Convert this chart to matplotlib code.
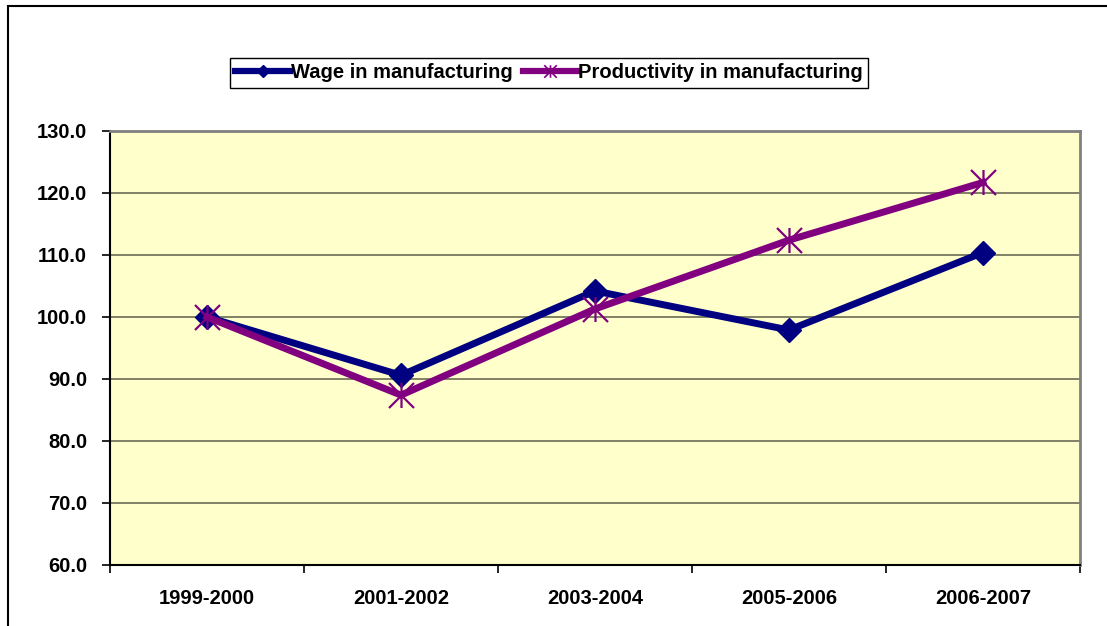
import numpy as np
import matplotlib
matplotlib.use("Agg")
import matplotlib.pyplot as plt
from matplotlib.path import Path
from matplotlib.patches import Rectangle
from matplotlib.lines import Line2D

plt.rcParams['font.family'] = ['Liberation Sans', 'DejaVu Sans']
plt.rcParams['font.weight'] = 'bold'

periods = ["1999-2000", "2001-2002", "2003-2004", "2005-2006", "2006-2007"]
wage = [100.0, 90.6, 104.2, 97.9, 110.4]
productivity = [100.0, 87.4, 101.3, 112.4, 121.7]
y_ticks = [60, 70, 80, 90, 100, 110, 120, 130]

WAGE_COLOR = "#000080"
PROD_COLOR = "#800080"
FS = 14.5

# Excel-style star: an X with a vertical bar through it
star_path = Path(
    [(-0.5, -0.5), (0.5, 0.5), (-0.5, 0.5), (0.5, -0.5), (0, -0.5), (0, 0.5)],
    [Path.MOVETO, Path.LINETO, Path.MOVETO, Path.LINETO, Path.MOVETO, Path.LINETO],
)

W, H = 1107, 626
fig = plt.figure(figsize=(W / 100, H / 100), dpi=100)
fig.patch.set_facecolor("white")

# outer chart-area border
fig.patches.append(Rectangle((8 / W, -0.1), 1.2, 1 - 6 / H + 0.1, transform=fig.transFigure,
                             fill=False, edgecolor="black", linewidth=1.5))

ax = fig.add_axes([110 / W, (H - 565) / H, 970 / W, 434 / H])
ax.set_facecolor("#FFFFCC")

x = np.arange(len(periods))
ax.plot(x, wage, color=WAGE_COLOR, linewidth=5, marker="D", markersize=12,
        markeredgecolor=WAGE_COLOR, markerfacecolor=WAGE_COLOR,
        zorder=3, solid_joinstyle="miter")
ax.plot(x, productivity, color=PROD_COLOR, linewidth=5, marker=star_path, markersize=18,
        markeredgewidth=1.6, markeredgecolor=PROD_COLOR, markerfacecolor="none",
        zorder=4, solid_joinstyle="miter")

ax.set_xlim(-0.5, len(periods) - 0.5)
ax.set_ylim(60, 130)
ax.set_yticks(y_ticks)
ax.set_yticklabels([f"{v:.1f}" for v in y_ticks], fontsize=FS, fontweight="bold")
ax.yaxis.grid(True, color="#6b6b55", linewidth=1.2)
ax.set_axisbelow(True)

# category labels between tick marks at the boundaries
ax.set_xticks(np.arange(-0.5, len(periods), 1.0))
ax.set_xticklabels([])
ax.set_xticks(x, minor=True)
ax.set_xticklabels(periods, minor=True, fontsize=FS, fontweight="bold")
ax.tick_params(axis="x", which="minor", length=0, pad=17)
ax.tick_params(axis="x", which="major", length=6, width=1.2, color="black", direction="out")
ax.tick_params(axis="y", length=6, width=1.2, color="black", direction="out", pad=10.5)

for side in ("top", "right"):
    ax.spines[side].set_color("#808080")
    ax.spines[side].set_linewidth(2)
for side in ("left", "bottom"):
    ax.spines[side].set_color("black")
    ax.spines[side].set_linewidth(1.5)

# legend uses smaller markers than the plotted series
handles = [
    Line2D([], [], color=WAGE_COLOR, linewidth=4.5, marker="D", markersize=6,
           markerfacecolor=WAGE_COLOR, markeredgecolor=WAGE_COLOR),
    Line2D([], [], color=PROD_COLOR, linewidth=4.5, marker=star_path, markersize=9,
           markeredgewidth=1.2, markeredgecolor=PROD_COLOR, markerfacecolor="none"),
]
labels = ["Wage in manufacturing", "Productivity in manufacturing"]
leg = fig.legend(handles, labels, loc="center", bbox_to_anchor=(549 / W, 1 - 73 / H), ncol=2,
                 frameon=True, fancybox=False, edgecolor="black", framealpha=1,
                 prop={"size": FS, "weight": "bold"}, handlelength=2.7,
                 handletextpad=0.05, columnspacing=0.5, borderpad=0.25,
                 borderaxespad=0, numpoints=1)
leg.get_frame().set_linewidth(1.0)

fig.savefig("out.png", dpi=100)
